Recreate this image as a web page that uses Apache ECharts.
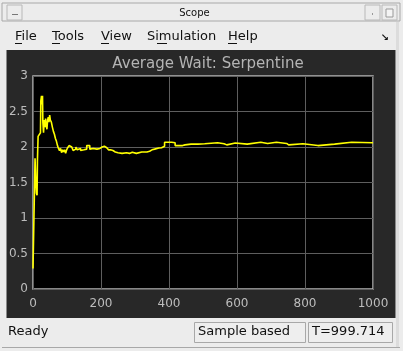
<!DOCTYPE html>
<html><head><meta charset="utf-8">
<script src="https://cdn.jsdelivr.net/npm/echarts@6/dist/echarts.min.js"></script>
<style>html,body{margin:0;padding:0;background:#ececec;}#c{width:403px;height:351px;}</style>
</head><body><div id="c"></div>
<script>
// Data (time, average wait)
var times = [0,5,6,8,10,12,13,15,20,22,23,25,27,28,29,31,33,35,37,39,41,43,45,47,49,51,54,57,60,63,66,69,72,75,78,81,84,87,90,93,96,99,102,106,110,114,118,122,126,130,135,140,145,150,155,158,163,167,172,177,182,188,193,197,203,210,217,222,228,235,242,250,262,275,284,292,304,320,335,343,350,358,370,378,387,400,408,413,418,440,447,465,485,505,510,543,562,570,595,630,670,690,716,746,752,794,838,887,937,1000];
var waits = [0.29,0.29,1.84,1.55,1.35,1.32,1.8,2.15,2.15,2.2,2.65,2.72,2.6,2.72,2.35,2.2,2.38,2.28,2.4,2.3,2.25,2.38,2.42,2.35,2.45,2.38,2.35,2.28,2.22,2.18,2.12,2.08,2.02,1.98,1.95,1.98,1.92,1.96,1.93,1.96,1.91,1.96,1.99,2.02,2.0,1.98,1.95,1.97,2.0,1.96,1.98,1.95,1.96,1.95,1.97,2.02,2.02,1.97,1.98,1.96,1.97,1.96,1.98,2.0,2.01,1.99,1.98,1.96,1.95,1.93,1.92,1.91,1.92,1.91,1.925,1.91,1.93,1.93,1.94,1.96,1.97,1.985,1.99,2.01,2.066,2.066,2.075,2.06,2.02,2.03,2.04,2.04,2.045,2.045,2.06,2.046,2.03,2.056,2.04,2.066,2.05,2.066,2.05,2.03,2.046,2.02,2.04,2.066,2.06,2.06];
var xTicks = [0,200,400,600,800,1000];
var yTicks = [0,0.5,1,1.5,2,2.5,3];
var chartTitle = 'Average Wait: Serpentine';
var menuItems = ['File','Tools','View','Simulation','Help'];

var data = times.map(function(t,i){return [t,waits[i]];});
var F = 'DejaVu Sans';
var chrome = [
  // dark figure panel (behind the grid)
  {type:'rect',z:-100,shape:{x:6.5,y:50,width:389,height:268},style:{fill:'#282828'}},
  {type:'rect',z:-100,shape:{x:33,y:76,width:340,height:213},style:{fill:'#000000'}},
  // title bar frame
  {type:'rect',shape:{x:2,y:3,width:398,height:18},style:{fill:'#ececec',stroke:'#a8a8a8',lineWidth:1}},
  {type:'rect',shape:{x:7,y:5,width:15,height:15},style:{fill:'#ececec',stroke:'#b8b8b8',lineWidth:1}},
  {type:'line',shape:{x1:12,y1:14.5,x2:18,y2:14.5},style:{stroke:'#777',lineWidth:1}},
  {type:'rect',shape:{x:365,y:5,width:15,height:15},style:{fill:'#ececec',stroke:'#b8b8b8',lineWidth:1}},
  {type:'rect',shape:{x:372,y:13,width:1,height:2},style:{fill:'#999'}},
  {type:'rect',shape:{x:382,y:5,width:15,height:15},style:{fill:'#ececec',stroke:'#b8b8b8',lineWidth:1}},
  {type:'rect',shape:{x:386,y:9,width:7,height:8},style:{fill:'#f4f4f4',stroke:'#999',lineWidth:1}},
  {type:'text',x:194.5,y:13,style:{text:'Scope',fill:'#111',font:'10px '+F,textAlign:'center',textVerticalAlign:'middle'}},
  {type:'rect',shape:{x:396,y:22,width:3,height:326},style:{fill:'#dcdcdc'}},
  // status bar
  {type:'text',x:8,y:332,style:{text:'Ready',fill:'#111',font:'13px '+F,textVerticalAlign:'middle'}},
  {type:'rect',shape:{x:194.5,y:322.5,width:111,height:20},style:{fill:'#eeeeee',stroke:'#a8a8a8',lineWidth:1}},
  {type:'text',x:198,y:332,style:{text:'Sample based',fill:'#111',font:'13px '+F,textVerticalAlign:'middle'}},
  {type:'rect',shape:{x:308.5,y:322.5,width:84,height:20},style:{fill:'#eeeeee',stroke:'#a8a8a8',lineWidth:1}},
  {type:'text',x:312,y:332,style:{text:'T=999.714',fill:'#111',font:'13px '+F,textVerticalAlign:'middle'}},
  {type:'line',shape:{x1:2,y1:347.5,x2:400,y2:347.5},style:{stroke:'#a8a8a8',lineWidth:1}},
  {type:'text',x:385,y:38,style:{text:'\u2198',fill:'#111',font:'bold 10px '+F,textAlign:'center',textVerticalAlign:'middle'}}
];
var menuX = [15,52,101,147,228];
var ulines = [[15,22],[52,60],[101,109],[157,167],[228,237]];
menuItems.forEach(function(m,i){
  chrome.push({type:'text',x:menuX[i],y:37,style:{text:m,fill:'#111',font:'13px '+F,textVerticalAlign:'middle'}});
  chrome.push({type:'line',shape:{x1:ulines[i][0],y1:43.5,x2:ulines[i][1],y2:43.5},style:{stroke:'#111',lineWidth:1}});
});

var chart = echarts.init(document.getElementById('c'),null,{renderer:'canvas'});
chart.setOption({
  backgroundColor:'#ececec',
  animation:false,
  title:{text:chartTitle,left:203,textAlign:'center',top:52,textStyle:{color:'#b4b4b4',fontFamily:F,fontSize:15,fontWeight:'normal'}},
  grid:{left:33,top:76,width:340,height:213,show:true,backgroundColor:'#000',borderColor:'#b4b4b4',borderWidth:1.5},
  xAxis:{type:'value',min:0,max:1000,interval:200,
    axisLine:{show:false},axisTick:{show:false},
    axisLabel:{color:'#bdbdbd',fontFamily:F,fontSize:12,margin:9,formatter:function(v){return xTicks.indexOf(v)>=0?String(v):'';}},
    splitLine:{show:true,lineStyle:{color:'#5e5e5e',width:1}}},
  yAxis:{type:'value',min:0,max:3,interval:0.5,
    axisLine:{show:false},axisTick:{show:false},
    axisLabel:{color:'#bdbdbd',fontFamily:F,fontSize:12,margin:5,formatter:function(v){return yTicks.indexOf(v)>=0?String(v):'';}},
    splitLine:{show:true,lineStyle:{color:'#5e5e5e',width:1}}},
  series:[{type:'line',data:data,step:'end',showSymbol:false,lineStyle:{color:'#ffff00',width:1.6},clip:true}],
  graphic:chrome
});
</script></body></html>
